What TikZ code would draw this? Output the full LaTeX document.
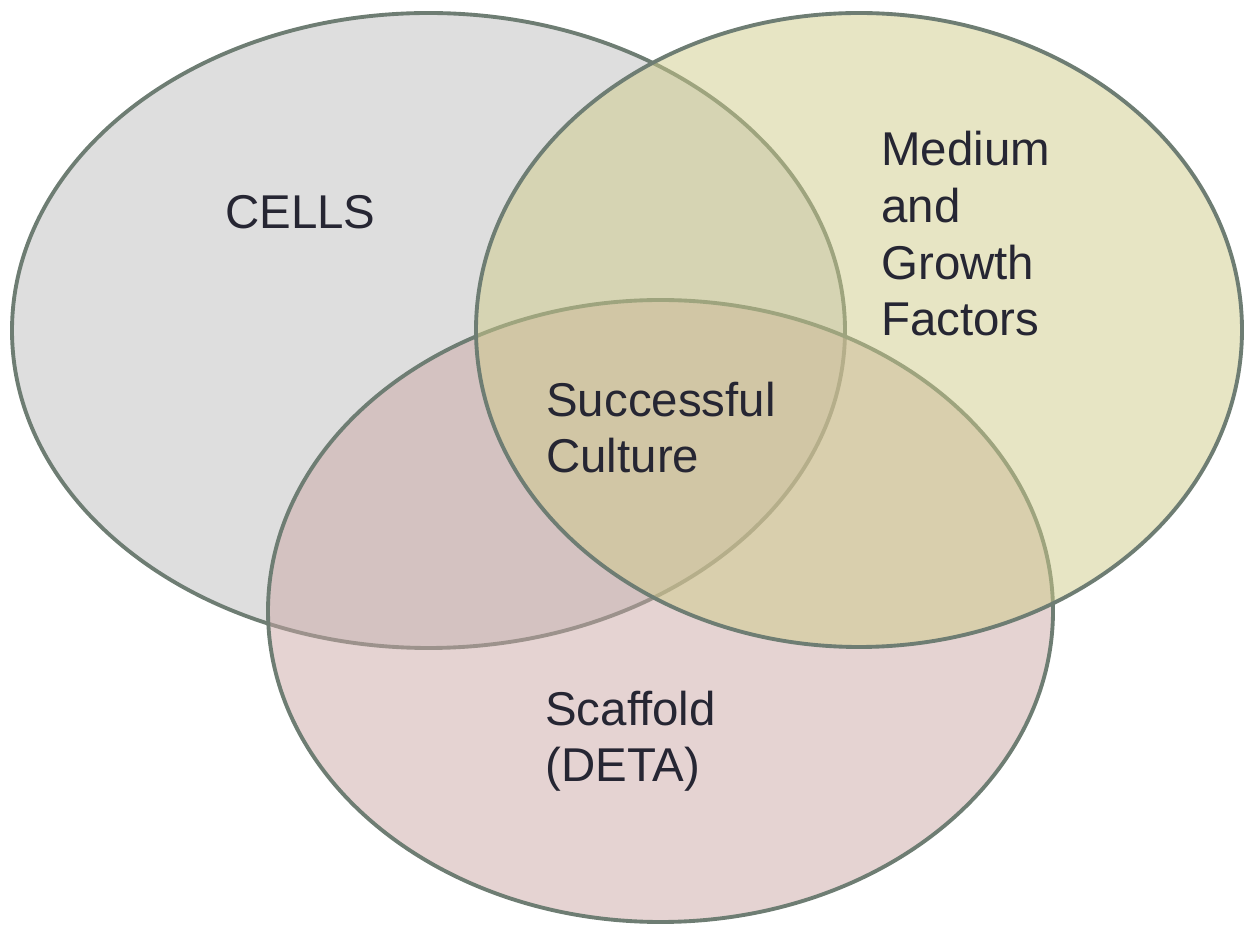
\documentclass[tikz,border=0pt]{standalone}
\usepackage{fontspec}
\setmainfont{Liberation Sans}
\definecolor{grayfill}{RGB}{189,189,189}
\definecolor{yellowfill}{RGB}{207,203,137}
\definecolor{pinkfill}{RGB}{203,167,165}
\definecolor{edge}{RGB}{110,125,115}
\definecolor{ink}{RGB}{38,38,51}
\tikzset{
  venn/.style={draw=edge, line width=2.2pt, fill opacity=0.5},
  lbl/.style={anchor=base west, align=left, inner sep=0pt, text=ink,
    font=\fontsize{27}{32.4}\selectfont}
}
\begin{document}
\begin{tikzpicture}[x=0.02cm,y=-0.02cm]
\useasboundingbox (0,0) rectangle (1245,928);
\draw[venn, fill=grayfill] (428.5,330.5) ellipse [x radius=416.5, y radius=317.5];
\draw[venn, fill=pinkfill] (660.5,611) ellipse [x radius=392.5, y radius=311];
\draw[venn, fill=yellowfill] (859,330) ellipse [x radius=383, y radius=317];
\node[lbl] (cells) at (225,229) {CELLS};
\node[lbl] (medium) at (881,336) {Medium\\and\\Growth\\Factors};
\node[lbl] (success) at (546,473) {Successful\\Culture};
\node[lbl] (scaffold) at (545,782) {Scaffold\\(DETA)};
\end{tikzpicture}
\end{document}
